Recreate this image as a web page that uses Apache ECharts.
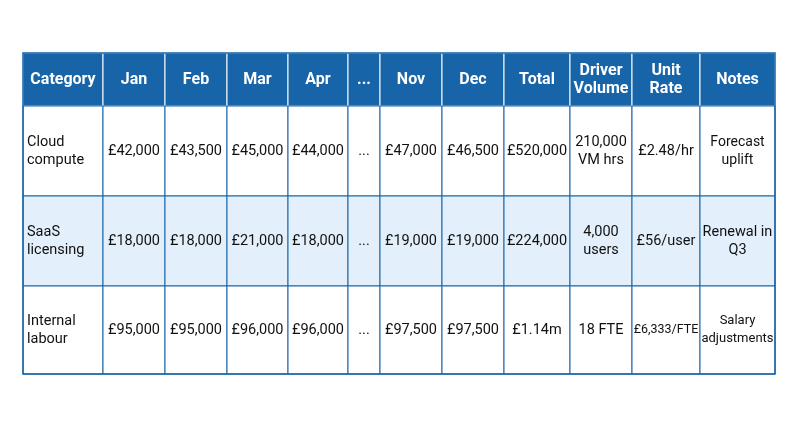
<!DOCTYPE html>
<html><head><meta charset="utf-8">
<script src="https://cdn.jsdelivr.net/npm/echarts@6/dist/echarts.min.js"></script>
<style>html,body{margin:0;background:#fff}#c{width:792px;height:442px}</style>
</head><body><div id="c"></div>
<script>
const headers = ['Category', 'Jan', 'Feb', 'Mar', 'Apr', '...', 'Nov', 'Dec', 'Total', 'Driver\nVolume', 'Unit\nRate', 'Notes'];
const categories = ['Cloud\ncompute', 'SaaS\nlicensing', 'Internal\nlabour'];
const monthly = [
    ['£42,000', '£43,500', '£45,000', '£44,000', '...', '£47,000', '£46,500'],
    ['£18,000', '£18,000', '£21,000', '£18,000', '...', '£19,000', '£19,000'],
    ['£95,000', '£95,000', '£96,000', '£96,000', '...', '£97,500', '£97,500']
];
const totals = ['£520,000', '£224,000', '£1.14m'];
const driverVolume = ['210,000\nVM hrs', '4,000\nusers', '18 FTE'];
const unitRate = ['£2.48/hr', '£56/user', '£6,333/FTE'];
const notes = ['Forecast\nuplift', 'Renewal in\nQ3', 'Salary\nadjustments'];

const colWidths = [80, 62, 62, 61, 60, 32, 62, 62, 66, 62, 68, 75];
const rowHeights = [53, 90, 90, 88];

function edges(arr) { const e = [0]; arr.forEach(v => e.push(e[e.length - 1] + v)); return e; }
const xE = edges(colWidths), yE = edges(rowHeights);

const rows = [headers];
categories.forEach((c, i) => rows.push([c, ...monthly[i], totals[i], driverVolume[i], unitRate[i], notes[i]]));
const cells = [];
rows.forEach((r, ri) => r.forEach((t, ci) => cells.push([ci, ri, t])));

const chart = echarts.init(document.getElementById('c'));
chart.setOption({
    animation: false,
    grid: {left: 23, top: 53, width: 752, height: 321},
    xAxis: {type: 'value', min: 0, max: xE[xE.length - 1], show: false},
    yAxis: {type: 'value', min: 0, max: yE[yE.length - 1], inverse: true, show: false},
    series: [{
        type: 'custom',
        data: cells,
        renderItem: (params, api) => {
            const ci = api.value(0), ri = api.value(1), txt = cells[params.dataIndex][2];
            const p0 = api.coord([xE[ci], yE[ri]]), p1 = api.coord([xE[ci + 1], yE[ri + 1]]);
            const head = ri === 0;
            const fill = head ? '#1764a8' : (ri === 2 ? '#e3f0fb' : '#ffffff');
            const left = !head && ci === 0;
            let fs = head ? 16 : 14.5;
            if (!head && ci === 11 && ri !== 2) fs = 14;
            if (!head && ci === 11 && ri === 3) fs = 13;
            if (ci === 10 && ri === 3) fs = 12.5;
            return {
                type: 'group', children: [
                    {type: 'rect', shape: {x: p0[0], y: p0[1], width: p1[0] - p0[0], height: p1[1] - p0[1]},
                     style: {fill: fill, stroke: head ? '#ffffff' : '#1764a8', lineWidth: 1}},
                    {type: 'text', x: left ? p0[0] + 4 : (p0[0] + p1[0]) / 2, y: (p0[1] + p1[1]) / 2,
                     style: {text: txt, fill: head ? '#ffffff' : '#111111', font: (head ? 'bold ' : '') + fs + 'px Roboto',
                        align: left ? 'left' : 'center', verticalAlign: 'middle', lineHeight: 18}}
                ]
            };
        }
    }],
    graphic: [{type: 'rect', shape: {x: 23, y: 53, width: 752, height: 321}, style: {fill: 'none', stroke: '#1764a8', lineWidth: 1.5}, z: 100}]
});
</script></body></html>
